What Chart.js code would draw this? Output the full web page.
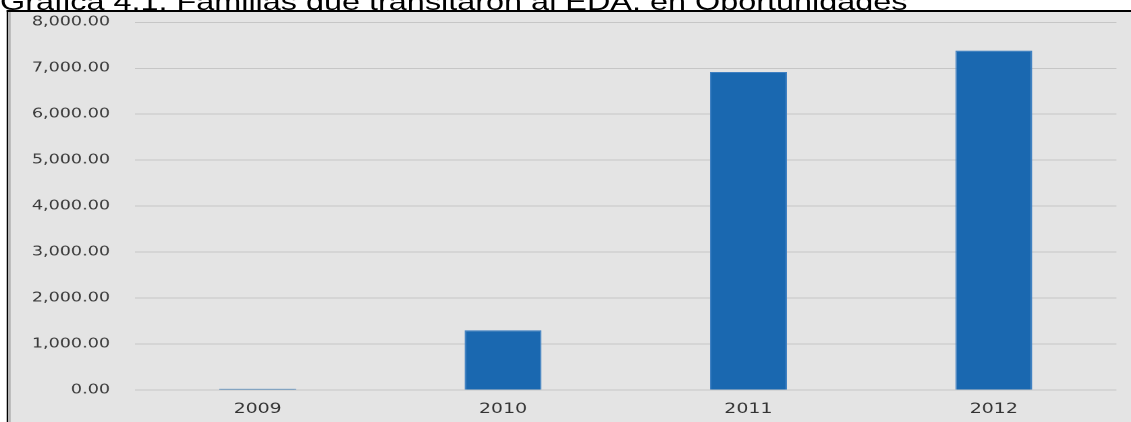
<!DOCTYPE html>
<html>
<head>
<meta charset="utf-8">
<script src="https://cdn.jsdelivr.net/npm/chart.js@4/dist/chart.umd.min.js"></script>
<style>
  html, body { margin: 0; padding: 0; background: #ffffff; overflow: hidden; }
  #stage { position: absolute; left: 0; top: 0; width: 838px; height: 422px; transform: scaleX(1.3497); transform-origin: 0 0; }
  #title { position: absolute; left: 0; top: -10px; white-space: nowrap; font-family: "Liberation Sans", Arial, sans-serif; font-size: 24px; line-height: 24px; color: #000; }
  #box { position: absolute; left: 5.2px; top: 9.5px; width: 840px; height: 420px; background: #e4e4e4; border-top: 2px solid #000; border-left: 1.5px solid #000; box-sizing: border-box; }
  #strip { position: absolute; left: 0; top: 0; width: 1.9px; height: 100%; background: #b4b4b4; }
  #c { position: absolute; left: 0; top: 0; }
</style>
</head>
<body>
<div id="stage">
  <div id="title">Gráfica 4.1. Familias que transitaron al EDA, en Oportunidades</div>
  <div id="box"><div id="strip"></div></div>
  <canvas id="c" width="838" height="422"></canvas>
</div>
<script>
const categories = ["2009", "2010", "2011", "2012"];
const familias = [28, 1300, 6920, 7385];
const yMin = 0;
const yMax = 8000;
const yStep = 1000;

const fmt = v => Number(v).toLocaleString('en-US', { minimumFractionDigits: 2, maximumFractionDigits: 2 });

new Chart(document.getElementById('c'), {
  type: 'bar',
  data: {
    labels: categories,
    datasets: [{
      data: familias,
      backgroundColor: '#1a68b0',
      borderColor: '#3f80c2',
      borderWidth: 1,
      categoryPercentage: 1,
      barPercentage: 0.3135
    }]
  },
  options: {
    responsive: false,
    devicePixelRatio: 2,
    animation: false,
    layout: { padding: { left: 0, right: 10.8, top: 22.3, bottom: 0 } },
    plugins: { legend: { display: false }, tooltip: { enabled: false }, title: { display: false } },
    scales: {
      x: {
        grid: { display: false, drawTicks: false },
        border: { display: false },
        ticks: { color: '#333333', font: { family: 'DejaVu Sans', size: 14 }, padding: 11, maxRotation: 0 },
        afterFit: s => { s.height = 32; }
      },
      y: {
        min: yMin, max: yMax,
        grid: { color: '#c6c6c6', lineWidth: 1, drawTicks: false },
        border: { display: false },
        ticks: { stepSize: yStep, color: '#3a3a3a', font: { family: 'DejaVu Sans', size: 13 }, padding: 18.5, callback: v => fmt(v) },
        afterFit: s => { s.width = 100; s.paddingTop = 8; s.paddingBottom = 8; }
      }
    }
  }
});
</script>
</body>
</html>
